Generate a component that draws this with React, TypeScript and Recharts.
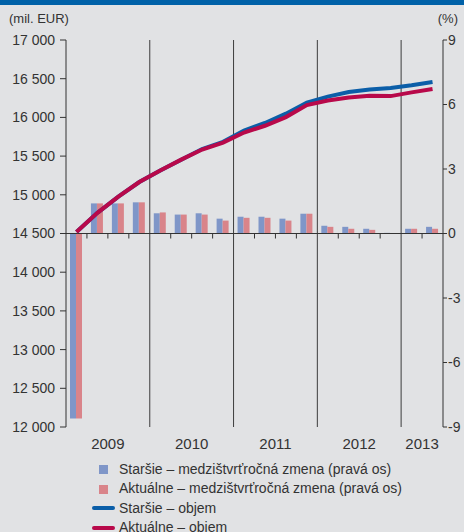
import React from "react";
import {
  ComposedChart,
  Bar,
  Line,
  Scatter,
  XAxis,
  YAxis,
  ReferenceLine,
} from "recharts";

const quarters = [
  "2009Q1", "2009Q2", "2009Q3", "2009Q4",
  "2010Q1", "2010Q2", "2010Q3", "2010Q4",
  "2011Q1", "2011Q2", "2011Q3", "2011Q4",
  "2012Q1", "2012Q2", "2012Q3", "2012Q4",
  "2013Q1", "2013Q2",
];
const years = ["2009", "2010", "2011", "2012", "2013"];

// medzištvrťročná zmena (%), pravá os
const oldYoy = [-8.6, 1.4, 1.4, 1.45, 0.94, 0.88, 0.94, 0.69, 0.78, 0.78, 0.69, 0.92, 0.36, 0.31, 0.22, 0.03, 0.22, 0.31];
const newYoy = [-8.6, 1.4, 1.4, 1.45, 0.98, 0.88, 0.88, 0.6, 0.73, 0.73, 0.6, 0.92, 0.31, 0.22, 0.17, 0, 0.22, 0.22];

// objem (mil. EUR), ľavá os
const oldVol = [14520, 14767, 14976, 15165, 15314, 15454, 15592, 15685, 15830, 15928, 16048, 16190, 16269, 16328, 16359, 16380, 16415, 16457];
const newVol = [14520, 14767, 14976, 15165, 15314, 15454, 15585, 15675, 15805, 15892, 16004, 16160, 16218, 16257, 16280, 16275, 16323, 16367];

const leftTicks = [12000, 12500, 13000, 13500, 14000, 14500, 15000, 15500, 16000, 16500, 17000];
const rightTicks = [-9, -6, -3, 0, 3, 6, 9];

const BG = "#e1e2e4";
const TXT = "#333333";
const BLUE_BAR = "#7f96c8";
const PINK_BAR = "#d9848a";
const BLUE_LINE = "#0b5ea8";
const RED_LINE = "#b8094a";
const FONT = "'Liberation Sans', Arial, sans-serif";

// pos = centre of the quarter on a 0..N numeric scale
const data = quarters.map((q, i) => ({
  q,
  pos: i + 0.5,
  oldYoy: oldYoy[i],
  newYoy: newYoy[i],
  oldVol: oldVol[i],
  newVol: newVol[i],
}));

const yearStarts: number[] = [];
const yearCenters: number[] = [];
years.forEach((y) => {
  const idx = quarters.map((q, i) => (q.startsWith(y) ? i : -1)).filter((i) => i >= 0);
  yearStarts.push(idx[0]);
  yearCenters.push((idx[0] + idx[idx.length - 1] + 1) / 2);
});
const yearLines = yearStarts.slice(1);
// small ticks on the zero line between quarters
const quarterTicks = quarters
  .map((_, i) => i)
  .filter((i) => i > 0 && !yearLines.includes(i))
  .map((i) => ({ pos: i, zero: 0 }));

const fmt = (v: number) => String(v).replace(/\B(?=(\d{3})+(?!\d))/g, " ");

const YearTick = (props: any) => {
  const { x, y, payload } = props;
  const i = yearCenters.indexOf(payload.value);
  return (
    <text x={x} y={y + 14} textAnchor="middle" fill={TXT} fontSize={15} fontFamily={FONT}>
      {i >= 0 ? years[i] : ""}
    </text>
  );
};

const TickMark = (props: any) => {
  const { cx, cy } = props;
  if (cx == null || cy == null) return null;
  return <line x1={cx} y1={cy} x2={cx} y2={cy + 5} stroke={TXT} strokeWidth={1} />;
};

const legendItems = [
  { label: "Staršie – medzištvrťročná zmena (pravá os)", color: BLUE_BAR, kind: "bar" },
  { label: "Aktuálne – medzištvrťročná zmena (pravá os)", color: PINK_BAR, kind: "bar" },
  { label: "Staršie – objem", color: BLUE_LINE, kind: "line" },
  { label: "Aktuálne – objem", color: RED_LINE, kind: "line" },
];

export default function App() {
  return (
    <div
      style={{
        position: "absolute",
        left: 0,
        top: 0,
        width: 464,
        height: 532,
        background: BG,
        overflow: "hidden",
        fontFamily: FONT,
        color: TXT,
      }}
    >
      <div style={{ position: "absolute", left: 0, top: 0, width: 464, height: 5, background: "#0061a8" }} />
      <div style={{ position: "absolute", left: 9, top: 11, fontSize: 13 }}>(mil. EUR)</div>
      <div style={{ position: "absolute", right: 6, top: 11, fontSize: 13 }}>(%)</div>

      <div style={{ position: "absolute", left: 0, top: 0 }}>
        <ComposedChart
          width={464}
          height={460}
          data={data}
          margin={{ top: 40, right: 0, bottom: 3, left: 0 }}
          barGap={0}
          barSize={6}
        >
          <XAxis
            xAxisId="n"
            dataKey="pos"
            type="number"
            domain={[0, quarters.length]}
            allowDataOverflow
            ticks={yearCenters}
            interval={0}
            axisLine={false}
            tickLine={false}
            height={30}
            tick={<YearTick />}
          />
          <XAxis xAxisId="cat" dataKey="q" type="category" hide height={0} />
          <YAxis
            yAxisId="left"
            orientation="left"
            domain={[12000, 17000]}
            ticks={leftTicks}
            width={66}
            tickFormatter={fmt}
            tickSize={6}
            tickMargin={5}
            axisLine={{ stroke: TXT }}
            tickLine={{ stroke: TXT }}
            tick={{ fill: TXT, fontSize: 14, fontFamily: FONT }}
            interval={0}
          />
          <YAxis
            yAxisId="right"
            orientation="right"
            domain={[-9, 9]}
            ticks={rightTicks}
            width={21}
            tickSize={4}
            tickMargin={1}
            axisLine={{ stroke: TXT }}
            tickLine={{ stroke: TXT }}
            tick={{ fill: TXT, fontSize: 14, fontFamily: FONT, textAnchor: "start" }}
            interval={0}
          />

          {yearLines.map((x) => (
            <ReferenceLine key={`y${x}`} xAxisId="n" yAxisId="left" x={x} stroke="#3c3c3c" strokeWidth={1} />
          ))}

          <Bar xAxisId="cat" yAxisId="right" dataKey="oldYoy" fill={BLUE_BAR} isAnimationActive={false} />
          <Bar xAxisId="cat" yAxisId="right" dataKey="newYoy" fill={PINK_BAR} isAnimationActive={false} />

          <ReferenceLine xAxisId="n" yAxisId="right" y={0} stroke={TXT} strokeWidth={1} />
          <Scatter
            xAxisId="n"
            yAxisId="right"
            data={quarterTicks}
            dataKey="zero"
            shape={<TickMark />}
            isAnimationActive={false}
          />

          <Line
            xAxisId="n"
            yAxisId="left"
            type="linear"
            dataKey="oldVol"
            stroke={BLUE_LINE}
            strokeWidth={4}
            dot={false}
            activeDot={false}
            isAnimationActive={false}
          />
          <Line
            xAxisId="n"
            yAxisId="left"
            type="linear"
            dataKey="newVol"
            stroke={RED_LINE}
            strokeWidth={4}
            dot={false}
            activeDot={false}
            isAnimationActive={false}
          />
        </ComposedChart>
      </div>

      <div style={{ position: "absolute", left: 92, top: 460 }}>
        {legendItems.map((it) => (
          <div
            key={it.label}
            style={{ display: "flex", alignItems: "center", height: 19.4, lineHeight: "19.4px", fontSize: 14, whiteSpace: "nowrap" }}
          >
            <div style={{ width: 27, display: "flex", alignItems: "center" }}>
              {it.kind === "bar" ? (
                <div style={{ marginLeft: 7, width: 9, height: 9, background: it.color }} />
              ) : (
                <div style={{ width: 23, height: 4, borderRadius: 2, background: it.color }} />
              )}
            </div>
            <span>{it.label}</span>
          </div>
        ))}
      </div>
    </div>
  );
}
